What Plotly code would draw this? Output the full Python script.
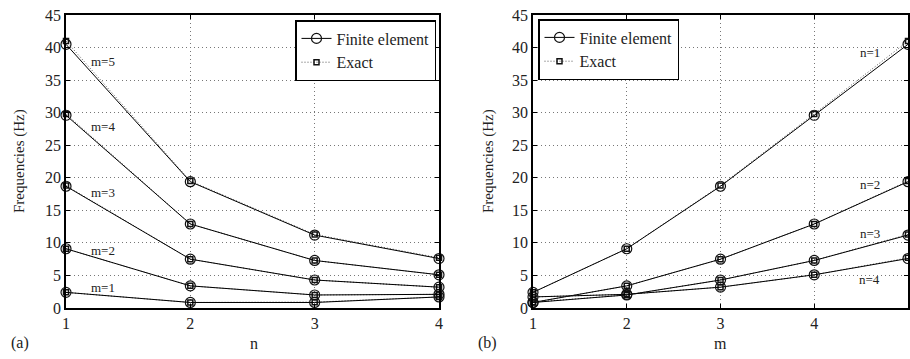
import plotly.graph_objects as go

# ---- data ----
n_vals = [1, 2, 3, 4]
m_vals = [1, 2, 3, 4, 5]
# Finite element frequencies (Hz): one list per m, values for n=1..4
fe_m1 = [2.4, 0.85, 0.85, 1.7]
fe_m2 = [9.1, 3.4, 2.0, 2.1]
fe_m3 = [18.7, 7.5, 4.3, 3.2]
fe_m4 = [29.6, 12.9, 7.3, 5.1]
fe_m5 = [40.5, 19.4, 11.2, 7.6]
# Exact frequencies (Hz)
ex_m1 = [2.4, 0.85, 0.9, 1.7]
ex_m2 = [9.1, 3.4, 2.0, 2.1]
ex_m3 = [18.8, 7.5, 4.3, 3.2]
ex_m4 = [29.8, 12.9, 7.3, 5.1]
ex_m5 = [41.0, 19.5, 11.3, 7.7]
fe_rows = [fe_m1, fe_m2, fe_m3, fe_m4, fe_m5]
ex_rows = [ex_m1, ex_m2, ex_m3, ex_m4, ex_m5]
m_labels = ["m=1", "m=2", "m=3", "m=4", "m=5"]
n_labels = ["n=1", "n=2", "n=3", "n=4"]
y_ticks = [0, 5, 10, 15, 20, 25, 30, 35, 40, 45]

FONT = "Liberation Serif, Times New Roman, DejaVu Serif, serif"
TXT = "#222222"

W, H = 910, 359
def px(X):
    return X / W
def py(Y):
    return 1 - Y / H

fig = go.Figure()

fe_line = dict(color="black", width=1)
ex_line = dict(color="#555555", width=1, dash="1px,2px")
fe_marker = dict(symbol="circle-open", size=10, color="#111111", line=dict(width=1.2))
ex_marker = dict(symbol="square-open", size=5, color="#111111", line=dict(width=1.5))

# Panel (a): vs n, one curve per m
for i, (fe, ex) in enumerate(zip(fe_rows, ex_rows)):
    fig.add_trace(go.Scatter(x=n_vals, y=ex, mode="lines+markers", line=ex_line, marker=ex_marker,
                             name="Exact", legend="legend", showlegend=(i == 0),
                             legendrank=2, xaxis="x", yaxis="y", cliponaxis=False))
    fig.add_trace(go.Scatter(x=n_vals, y=fe, mode="lines+markers", line=fe_line, marker=fe_marker,
                             name="Finite element", legend="legend", showlegend=(i == 0),
                             legendrank=1, xaxis="x", yaxis="y", cliponaxis=False))

# Panel (b): vs m, one curve per n
for j in range(len(n_vals)):
    fe = [row[j] for row in fe_rows]
    ex = [row[j] for row in ex_rows]
    fig.add_trace(go.Scatter(x=m_vals, y=ex, mode="lines+markers", line=ex_line, marker=ex_marker,
                             name="Exact", legend="legend2", showlegend=(j == 0),
                             legendrank=2, xaxis="x2", yaxis="y2", cliponaxis=False))
    fig.add_trace(go.Scatter(x=m_vals, y=fe, mode="lines+markers", line=fe_line, marker=fe_marker,
                             name="Finite element", legend="legend2", showlegend=(j == 0),
                             legendrank=1, xaxis="x2", yaxis="y2", cliponaxis=False))

axis_common = dict(showline=True, linecolor="black", linewidth=1.5, mirror="ticks",
                   ticks="inside", ticklen=4, tickcolor="black", automargin=False,
                   showgrid=True, gridcolor="#777777", griddash="1px,3px", gridwidth=1,
                   zeroline=False, tickfont=dict(family=FONT, size=16, color=TXT))

fig.update_layout(
    width=W, height=H, margin=dict(l=0, r=0, t=0, b=0, autoexpand=False),
    paper_bgcolor="white", plot_bgcolor="white",
    font=dict(family=FONT, color=TXT),
    xaxis=dict(domain=[px(66), px(439)], range=[1, 4], tickvals=n_vals, anchor="y", **axis_common),
    yaxis=dict(domain=[py(308), py(15)], range=[0, 45], tickvals=y_ticks, anchor="x", **axis_common),
    xaxis2=dict(domain=[px(533), px(908)], range=[1, 5], tickvals=m_vals, anchor="y2", **axis_common),
    yaxis2=dict(domain=[py(308), py(15)], range=[0, 45], tickvals=y_ticks, anchor="x2", **axis_common),
    legend=dict(x=px(436), y=py(20), xanchor="right", yanchor="top", bgcolor="white",
                bordercolor="black", borderwidth=1.5, font=dict(family=FONT, size=16, color=TXT),
                tracegroupgap=0, itemwidth=30),
    legend2=dict(x=px(538), y=py(19), xanchor="left", yanchor="top", bgcolor="white",
                 bordercolor="black", borderwidth=1.5, font=dict(family=FONT, size=16, color=TXT),
                 tracegroupgap=0, itemwidth=30),
    showlegend=True,
)

# curve labels and titles
ann = []
m_label_y = [3.2, 8.9, 17.8, 27.8, 37.8]
for lab, yv in zip(m_labels, m_label_y):
    ann.append(dict(x=1.3, y=yv, xref="x", yref="y", text=lab, showarrow=False,
                    font=dict(family=FONT, size=13, color=TXT)))
n_label_y = [39.2, 18.9, 11.5, 4.4]
for lab, yv in zip(n_labels, n_label_y):
    ann.append(dict(x=4.59, y=yv, xref="x2", yref="y2", text=lab, showarrow=False,
                    font=dict(family=FONT, size=13, color=TXT)))
title_font = dict(family=FONT, size=16, color=TXT)
for text, X, Y in [("(a)", 20, 343), ("(b)", 487, 343), ("n", 254, 343), ("m", 720, 343)]:
    ann.append(dict(x=px(X), y=py(Y), xref="paper", yref="paper", text=text, showarrow=False,
                    xanchor="center", yanchor="middle", font=title_font))
for X in [19, 488]:
    ann.append(dict(x=px(X), y=py(161), xref="paper", yref="paper", text="Frequencies (Hz)",
                    textangle=-90, showarrow=False, xanchor="center", yanchor="middle",
                    font=dict(family=FONT, size=15, color=TXT)))
fig.update_layout(annotations=ann)

fig.write_html("out.html", config={"displayModeBar": False},
               post_script="document.body.style.margin='0';document.body.style.overflow='hidden';")
